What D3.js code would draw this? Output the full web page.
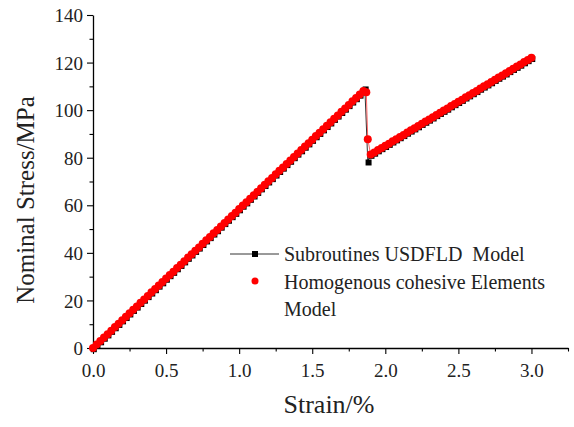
<!DOCTYPE html>
<html>
<head>
<meta charset="utf-8">
<title>Nominal stress vs strain</title>
<script src="https://cdn.jsdelivr.net/npm/d3@7"></script>
<style>
body { margin:0; background:#fff; }
text { font-family:"Liberation Serif", "Times New Roman", serif; white-space:pre; }
</style>
</head>
<body>
<script>
// rising branch, both models sit on top of each other here
var strainUp = [0,0.025,0.05,0.075,0.1,0.125,0.15,0.175,0.2,0.225,0.25,0.275,0.3,0.325,0.35,0.375,0.4,0.425,0.45,0.475,
  0.5,0.525,0.55,0.575,0.6,0.625,0.65,0.675,0.7,0.725,0.75,0.775,0.8,0.825,0.85,0.875,0.9,0.925,0.95,0.975,
  1.0,1.025,1.05,1.075,1.1,1.125,1.15,1.175,1.2,1.225,1.25,1.275,1.3,1.325,1.35,1.375,1.4,1.425,1.45,1.475,
  1.5,1.525,1.55,1.575,1.6,1.625,1.65,1.675,1.7,1.725,1.75,1.775,1.8,1.825,1.85];
var stressUp = [0,1.5,2.9,4.4,5.8,7.3,8.8,10.2,11.7,13.1,14.6,16.1,17.5,19.0,20.4,21.9,23.4,24.8,26.3,27.7,
  29.2,30.7,32.1,33.6,35.0,36.5,38.0,39.4,40.9,42.3,43.8,45.3,46.7,48.2,49.6,51.1,52.6,54.0,55.5,56.9,
  58.4,59.9,61.3,62.8,64.2,65.7,67.2,68.6,70.1,71.5,73.0,74.5,75.9,77.4,78.8,80.3,81.8,83.2,84.7,86.1,
  87.6,89.1,90.5,92.0,93.4,94.9,96.4,97.8,99.3,100.7,102.2,103.7,105.1,106.6,108.0];

// the drop after the peak
var dropStrainUSDFLD = [1.86,1.88];
var dropStressUSDFLD = [109.2,78.5];
var dropStrainCohesive = [1.87,1.88];
var dropStressCohesive = [107.5,87.8];

// second rising branch
var strainDown = [1.9,1.925,1.95,1.975,2.0,2.025,2.05,2.075,2.1,2.125,2.15,2.175,2.2,2.225,2.25,2.275,2.3,2.325,2.35,2.375,
  2.4,2.425,2.45,2.475,2.5,2.525,2.55,2.575,2.6,2.625,2.65,2.675,2.7,2.725,2.75,2.775,2.8,2.825,2.85,2.875,
  2.9,2.925,2.95,2.975,3.0];
var stressDown = [81.3,82.2,83.2,84.1,85.0,85.9,86.9,87.8,88.7,89.6,90.6,91.5,92.4,93.3,94.3,95.2,96.1,97.0,98.0,98.9,
  99.8,100.7,101.7,102.6,103.5,104.4,105.4,106.3,107.2,108.1,109.1,110.0,110.9,111.8,112.8,113.7,114.6,115.5,116.5,117.4,
  118.3,119.2,120.2,121.1,122.0];

var xTicks = [0,0.5,1.0,1.5,2.0,2.5,3.0];
var yTicks = [0,20,40,60,80,100,120,140];
var legendNames = ["Subroutines USDFLD  Model", "Homogenous cohesive Elements", "Model"];

function build(dx, dy){
  var pts = [];
  strainUp.forEach(function(s,i){ pts.push([s, stressUp[i]]); });
  dx.forEach(function(s,i){ pts.push([s, dy[i]]); });
  strainDown.forEach(function(s,i){ pts.push([s, stressDown[i]]); });
  return pts;
}
var usdfld = build(dropStrainUSDFLD, dropStressUSDFLD);
var cohesive = build(dropStrainCohesive, dropStressCohesive);

var W = 574, H = 427;
var padL = 93, padR = 568, padT = 15, padB = 348;

var svg = d3.select('body').append('svg').attr('width', W).attr('height', H);

var x = d3.scaleLinear().domain([0, 3.25]).range([padL, padR]);
var y = d3.scaleLinear().domain([0, 140]).range([padB, padT]);

function isMajorX(d){ return xTicks.some(function(t){ return Math.abs(t - d) < 1e-6; }); }
function isMajorY(d){ return yTicks.indexOf(d) >= 0; }

// axes
var xAxis = svg.append('g').attr('transform', 'translate(0,' + padB + ')')
  .call(d3.axisBottom(x).tickValues(d3.range(0, 3.26, 0.25)).tickSize(5).tickSizeOuter(0)
    .tickFormat(function(d){ return isMajorX(d) ? d.toFixed(1) : ''; }));
xAxis.selectAll('.tick line').attr('y2', function(d){ return isMajorX(d) ? 6 : 3.5; });

var yAxis = svg.append('g').attr('transform', 'translate(' + padL + ',0)')
  .call(d3.axisLeft(y).tickValues(d3.range(0, 141, 10)).tickSize(5).tickSizeOuter(0)
    .tickFormat(function(d){ return isMajorY(d) ? d : ''; }));
yAxis.selectAll('.tick line').attr('x2', function(d){ return isMajorY(d) ? -6 : -3.5; });

svg.selectAll('.domain').attr('stroke', '#000').attr('stroke-width', 1.3);
svg.selectAll('.tick line').attr('stroke', '#000').attr('stroke-width', 1.1);
xAxis.selectAll('.tick text').attr('font-size', 19).attr('fill', '#222').attr('dy', '1.1em')
  .style('font-family', '"Liberation Serif", serif');
yAxis.selectAll('.tick text').attr('font-size', 19).attr('fill', '#222').attr('x', -10).attr('dy', '0.35em')
  .style('font-family', '"Liberation Serif", serif');

svg.append('text').attr('x', 329).attr('y', 413).attr('text-anchor', 'middle')
  .attr('font-size', 26).attr('fill', '#222').text('Strain/%');
svg.append('text').attr('transform', 'translate(34,200) rotate(-90)').attr('text-anchor', 'middle')
  .attr('font-size', 25).attr('fill', '#222').text('Nominal Stress/MPa');

var line = d3.line().x(function(d){ return x(d[0]); }).y(function(d){ return y(d[1]); });

// USDFLD model: black squares with thin line
svg.append('path').datum(usdfld).attr('d', line).attr('fill', 'none').attr('stroke', '#000').attr('stroke-width', 0.8);
svg.selectAll('rect.usd').data(usdfld).enter().append('rect').attr('class', 'usd')
  .attr('x', function(d){ return x(d[0]) - 2.2; }).attr('y', function(d){ return y(d[1]) - 1.8; })
  .attr('width', 6).attr('height', 6).attr('fill', '#000');

// cohesive model: red dots
svg.append('path').datum(cohesive).attr('d', line).attr('fill', 'none').attr('stroke', '#f00').attr('stroke-width', 0.6);
svg.selectAll('circle.coh').data(cohesive).enter().append('circle').attr('class', 'coh')
  .attr('cx', function(d){ return x(d[0]); }).attr('cy', function(d){ return y(d[1]); })
  .attr('r', 4).attr('fill', '#f00');

// legend
var lg = svg.append('g');
lg.append('line').attr('x1', 230).attr('x2', 279).attr('y1', 254).attr('y2', 254).attr('stroke', '#000').attr('stroke-width', 0.8);
lg.append('rect').attr('x', 252).attr('y', 251).attr('width', 6).attr('height', 6).attr('fill', '#000');
lg.append('circle').attr('cx', 255).attr('cy', 281).attr('r', 3.5).attr('fill', '#f00');
lg.append('text').attr('x', 284).attr('y', 261).attr('font-size', 20).attr('fill', '#222').text(legendNames[0]);
lg.append('text').attr('x', 284).attr('y', 289).attr('font-size', 20).attr('fill', '#222').text(legendNames[1]);
lg.append('text').attr('x', 284).attr('y', 316).attr('font-size', 20).attr('fill', '#222').text(legendNames[2]);
</script>
</body>
</html>
